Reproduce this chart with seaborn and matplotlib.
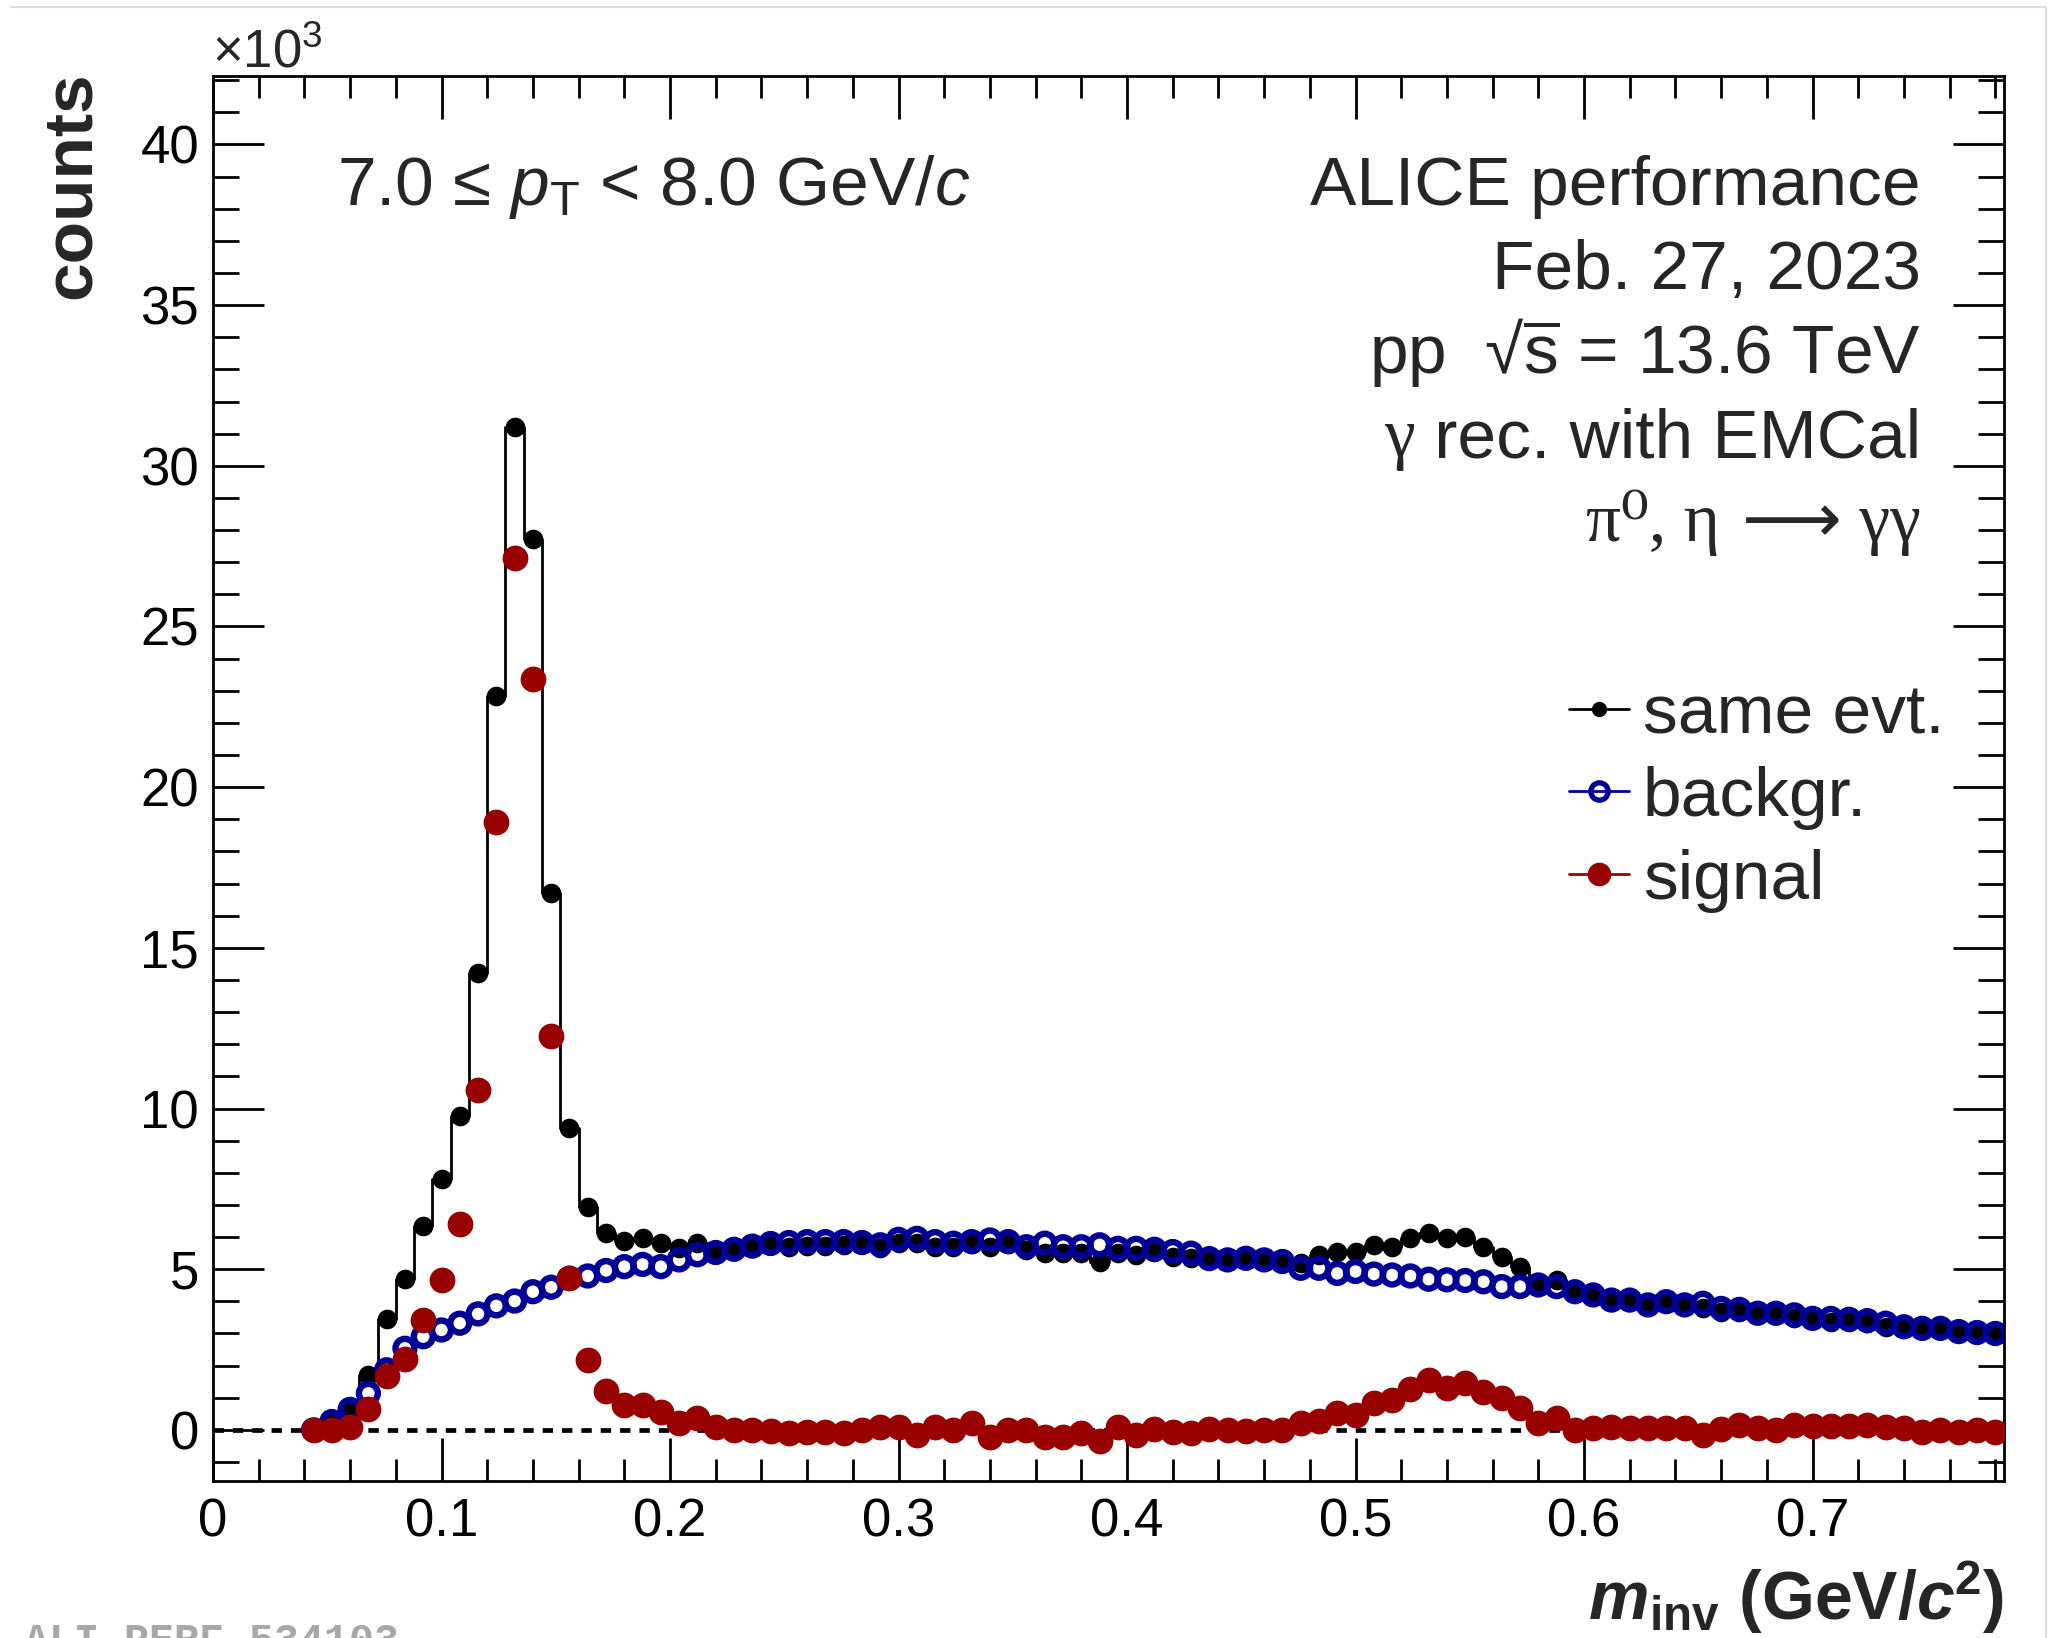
import numpy as np
import pandas as pd
import matplotlib
matplotlib.use("Agg")
import matplotlib.pyplot as plt
from matplotlib.lines import Line2D
from matplotlib.ticker import MultipleLocator
import seaborn as sns

# ---------------------------------------------------------------------------
# Invariant-mass spectrum, 7.0 <= pT < 8.0 GeV/c  (counts in units of 10^3)
# bin centres in GeV/c^2, 8 MeV/c^2 wide bins
# ---------------------------------------------------------------------------
m_inv = np.round(np.arange(0.044, 0.7801, 0.008), 3)

same_evt = [
    0.00, 0.25, 0.62, 1.71, 3.44, 4.70, 6.33, 7.81, 9.78, 14.23,   # 0.044-0.116
    22.85, 31.21, 27.72, 16.70, 9.39, 6.93, 6.14, 5.89, 5.96, 5.81, # 0.124-0.196
    5.65, 5.81, 5.60, 5.62, 5.72, 5.76, 5.70, 5.73, 5.73, 5.76,     # 0.204-0.276
    5.81, 5.65, 5.83, 5.83, 5.70, 5.70, 5.80, 5.70, 5.78, 5.60,     # 0.284-0.356
    5.50, 5.50, 5.50, 5.24, 5.50, 5.45, 5.55, 5.39, 5.34, 5.29,     # 0.364-0.436
    5.29, 5.29, 5.29, 5.27, 5.19, 5.45, 5.55, 5.55, 5.75, 5.70,     # 0.444-0.516
    5.96, 6.14, 5.96, 5.99, 5.70, 5.37, 5.06, 4.58, 4.65, 4.30,     # 0.524-0.596
    4.20, 4.04, 4.04, 3.89, 3.99, 3.84, 3.78, 3.68, 3.68, 3.63,     # 0.604-0.676
    3.63, 3.47, 3.47, 3.37, 3.37, 3.32, 3.21, 3.16, 3.11, 3.11,     # 0.684-0.756
    3.03, 3.00, 3.00,                                               # 0.764-0.780
]

backgr = [
    0.00, 0.26, 0.64, 1.14, 1.87, 2.54, 2.90, 3.11, 3.32, 3.61,
    3.86, 4.01, 4.30, 4.44, 4.72, 4.79, 4.96, 5.08, 5.15, 5.08,
    5.29, 5.45, 5.52, 5.62, 5.72, 5.80, 5.83, 5.86, 5.86, 5.86,
    5.83, 5.76, 5.93, 5.96, 5.86, 5.81, 5.86, 5.91, 5.86, 5.70,
    5.81, 5.70, 5.70, 5.76, 5.65, 5.65, 5.62, 5.55, 5.50, 5.33,
    5.29, 5.34, 5.29, 5.24, 5.03, 5.03, 4.87, 4.93, 4.85, 4.82,
    4.79, 4.69, 4.67, 4.65, 4.61, 4.46, 4.46, 4.51, 4.46, 4.30,
    4.20, 4.04, 4.04, 3.89, 3.99, 3.89, 3.94, 3.78, 3.75, 3.63,
    3.63, 3.58, 3.47, 3.47, 3.44, 3.40, 3.32, 3.21, 3.16, 3.16,
    3.06, 3.03, 3.00,
]

signal = [
    0.00, 0.00, 0.08, 0.64, 1.68, 2.20, 3.42, 4.67, 6.41, 10.58,
    18.91, 27.14, 23.36, 12.27, 4.72, 2.16, 1.22, 0.78, 0.78, 0.57,
    0.21, 0.36, 0.10, 0.00, 0.00, -0.02, -0.10, -0.08, -0.08, -0.10,
    0.00, 0.10, 0.10, -0.16, 0.10, 0.00, 0.21, -0.21, 0.00, 0.00,
    -0.21, -0.21, -0.10, -0.36, 0.10, -0.16, 0.02, -0.05, -0.10, 0.02,
    0.00, -0.03, 0.00, 0.00, 0.23, 0.29, 0.52, 0.47, 0.85, 0.93,
    1.26, 1.55, 1.30, 1.45, 1.19, 0.98, 0.67, 0.21, 0.36, 0.00,
    0.05, 0.10, 0.05, 0.05, 0.05, 0.05, -0.16, 0.02, 0.16, 0.05,
    0.00, 0.16, 0.12, 0.12, 0.12, 0.16, 0.10, 0.05, -0.05, 0.00,
    -0.05, 0.00, -0.05,
]

series_labels = ["same evt.", "backgr.", "signal"]
x_ticks = [0.0, 0.1, 0.2, 0.3, 0.4, 0.5, 0.6, 0.7]
x_tick_labels = ["0", "0.1", "0.2", "0.3", "0.4", "0.5", "0.6", "0.7"]
y_ticks = [0, 5, 10, 15, 20, 25, 30, 35, 40]
y_tick_labels = ["0", "5", "10", "15", "20", "25", "30", "35", "40"]

df = pd.DataFrame({"m_inv": m_inv, "same": same_evt,
                   "backgr": backgr, "signal": signal})

# ---------------------------------------------------------------------------
# style
# ---------------------------------------------------------------------------
sns.set_theme(style="ticks")
SANS = ["Liberation Sans", "DejaVu Sans"]
SERIF = ["Liberation Serif", "DejaVu Serif", "DejaVu Sans"]
plt.rcParams["font.family"] = SANS
plt.rcParams["mathtext.fontset"] = "custom"
plt.rcParams["mathtext.rm"] = "Liberation Sans"
plt.rcParams["mathtext.it"] = "Liberation Sans:italic"
plt.rcParams["mathtext.bf"] = "Liberation Sans:bold"
plt.rcParams["mathtext.bfit"] = "Liberation Sans:bold:italic"
plt.rcParams["mathtext.sf"] = "Liberation Sans"
plt.rcParams["axes.linewidth"] = 2.0

BLACK = "#000000"
BLUE = "#000099"
RED = "#990000"

W, H = 2049, 1638
fig = plt.figure(figsize=(W / 100, H / 100), dpi=100)
fig.patch.set_facecolor("white")

ax_l, ax_r, ax_t, ax_b = 213, 2004, 76, 1481
ax = fig.add_axes([ax_l / W, 1 - ax_b / H, (ax_r - ax_l) / W, (ax_b - ax_t) / H])
ax.set_facecolor("white")

# same-event histogram outline
sns.lineplot(data=df, x="m_inv", y="same", ax=ax, color=BLACK, lw=2.0,
             drawstyle="steps-mid", estimator=None, sort=False, zorder=2)
# same-event points
sns.scatterplot(data=df, x="m_inv", y="same", ax=ax, color=BLACK,
                edgecolor=BLACK, s=200, linewidth=0, marker="o", zorder=3)
# zero line
ax.axhline(0, color=BLACK, lw=3.4, ls=(0, (2.2, 1.9)), zorder=3.5)
# mixed-event background (open circles)
sns.scatterplot(data=df, x="m_inv", y="backgr", ax=ax, facecolor="none",
                edgecolor=BLUE, s=185, linewidth=4.6, marker="o", zorder=4)
# signal
sns.scatterplot(data=df, x="m_inv", y="signal", ax=ax, color=RED,
                edgecolor=RED, s=345, linewidth=0, marker="o", zorder=5)

ax.set_xlim(0, 0.7838)
ax.set_ylim(-1.59, 42.13)
ax.set_xlabel("")
ax.set_ylabel("")

ax.set_xticks(x_ticks)
ax.set_xticklabels(x_tick_labels)
ax.set_yticks(y_ticks)
ax.set_yticklabels(y_tick_labels)
ax.xaxis.set_minor_locator(MultipleLocator(0.02))
ax.yaxis.set_minor_locator(MultipleLocator(1))

for s in ax.spines.values():
    s.set_visible(True)
    s.set_color(BLACK)
    s.set_linewidth(2.0)

ax.tick_params(which="both", direction="in", top=True, right=True,
               width=2.0, color=BLACK, labelsize=38, labelcolor=BLACK)
ax.tick_params(axis="x", which="major", length=31, pad=12)
ax.tick_params(axis="x", which="minor", length=16)
ax.tick_params(axis="y", which="major", length=37, pad=10)
ax.tick_params(axis="y", which="minor", length=19)
ax.grid(False)

# axis titles
fig.text(0.0508, 1 - 71 / H, "counts", rotation=90, ha="right", va="top",
         fontsize=50, fontweight="bold")
fig.text(ax_r / W, 1 - 1620 / H,
         r"$\mathbfit{m}_{\mathbf{inv}}\ \mathbf{(GeV/}\mathbfit{c}^{\mathbf{2}}\mathbf{)}$",
         ha="right", va="baseline", fontsize=49)
fig.text(212 / W, 1 - 67 / H, r"$\times$10$^{3}$", ha="left", va="baseline",
         fontsize=38)

# annotations
fig.text(337 / W, 1 - 205 / H,
         r"7.0 ≤ $\mathit{p}_{\mathrm{T}}$ < 8.0 GeV/$\mathit{c}$",
         ha="left", va="baseline", fontsize=50)

xr = 1921 / W
base = [205, 289, 373, 457, 541]
fig.text(xr, 1 - base[0] / H, "ALICE performance", ha="right", va="baseline", fontsize=50)
fig.text(xr, 1 - base[1] / H, "Feb. 27, 2023", ha="right", va="baseline", fontsize=50)
fig.text(xr, 1 - base[2] / H, r"pp  √$\overline{\mathrm{s}}$ = 13.6 TeV", ha="right",
         va="baseline", fontsize=50)
t4 = fig.text(xr, 1 - base[3] / H, " rec. with EMCal", ha="right", va="baseline",
              fontsize=50)
ax.annotate("γ", xy=(0, 0), xycoords=t4, ha="right", va="bottom",
            fontsize=50, family=SERIF)

# decay line: serif Greek letters with a sans arrow, chained right to left
t5 = fig.text(xr, 1 - base[4] / H, " γγ", ha="right", va="baseline",
              fontsize=50, family=SERIF)
t5b = ax.annotate(" ⟶", xy=(0, 0), xycoords=t5, ha="right", va="bottom",
                  fontsize=50, family=["DejaVu Sans"])
ax.annotate("π⁰, η", xy=(0, 0), xycoords=t5b, ha="right", va="bottom",
            fontsize=50, family=SERIF)

# legend
handles = [
    Line2D([], [], color=BLACK, lw=2.0, marker="o", ms=11, mfc=BLACK, mec=BLACK, mew=0),
    Line2D([], [], color=BLUE, lw=2.0, marker="o", ms=12.5, mfc="none", mec=BLUE, mew=3.8),
    Line2D([], [], color=RED, lw=2.0, marker="o", ms=17, mfc=RED, mec=RED, mew=0),
]
ax.legend(handles, series_labels, loc="upper left",
          bbox_to_anchor=(1569 / W, 1 - 683 / H), bbox_transform=fig.transFigure,
          frameon=False, fontsize=50, handlelength=0.86, handletextpad=0.2,
          labelspacing=0.27, borderpad=0, borderaxespad=0)

# page frame and plot identifier
fig.add_artist(Line2D([11 / W, 2046 / W], [1 - 7 / H, 1 - 7 / H],
                      transform=fig.transFigure, color="#dddddd", lw=1.5))
fig.add_artist(Line2D([2046 / W, 2046 / W], [0, 1 - 7 / H],
                      transform=fig.transFigure, color="#dddddd", lw=1.5))
fig.text(24 / W, 1 - 1622 / H, "ALI-PERF-534103", ha="left", va="top",
         fontsize=30, color="#a8a8a8", family=["Liberation Mono", "DejaVu Sans Mono"],
         fontweight="bold")

fig.savefig("out.png", dpi=100, facecolor="white")
